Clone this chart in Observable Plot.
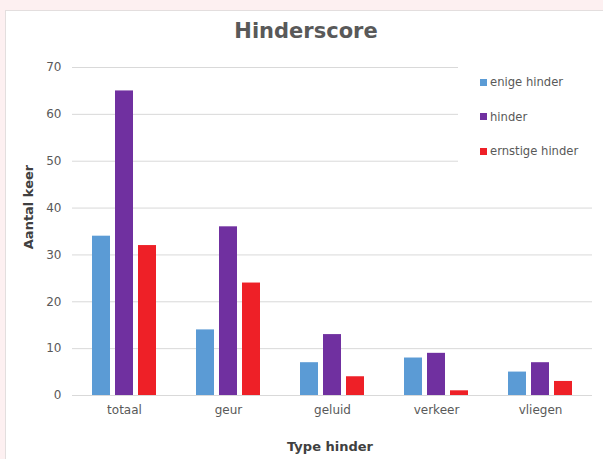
<!DOCTYPE html>
<html>
<head>
<meta charset="utf-8">
<script src="https://cdn.jsdelivr.net/npm/d3@7"></script>
<script src="https://cdn.jsdelivr.net/npm/@observablehq/plot@0.6"></script>
<style>
  body { margin: 0; background: #fdf0f1; }
  #wrap { position: relative; width: 603px; height: 459px; overflow: hidden; font-family: "DejaVu Sans", sans-serif; color: #595959; }
  #panel { position: absolute; left: 5px; top: 10px; width: 640px; height: 480px; background: #fff; border: 1px solid #e3dede; }
  .layer { position: absolute; left: 0; top: 0; }
  #title { position: absolute; left: 306px; top: 19px; transform: translateX(-50%); font-size: 21px; font-weight: bold; color: #595959; white-space: nowrap; }
  #ylab { position: absolute; left: 28px; top: 207px; transform: translate(-50%, -50%) rotate(-90deg); font-size: 13px; font-weight: bold; color: #404040; white-space: nowrap; }
  #xlab { position: absolute; left: 330px; top: 439px; transform: translateX(-50%); font-size: 13px; font-weight: bold; color: #404040; white-space: nowrap; }
  #legend { position: absolute; left: 458px; top: 60px; width: 135px; height: 114px; background: #fff; }
  .item { position: absolute; left: 22px; font-size: 11.6px; color: #595959; white-space: nowrap; display: flex; align-items: center; }
  .sw { width: 7px; height: 7px; margin-right: 3px; }
</style>
</head>
<body>
<div id="wrap">
  <div id="panel"></div>
  <div id="grid" class="layer"></div>
  <div id="bars" class="layer"></div>
  <div id="legend"></div>
  <div id="title">Hinderscore</div>
  <div id="ylab">Aantal keer</div>
  <div id="xlab">Type hinder</div>
</div>
<script>
const categories = ["totaal", "geur", "geluid", "verkeer", "vliegen"];
const series = ["enige hinder", "hinder", "ernstige hinder"];
const enigeHinder = [34, 14, 7, 8, 5];
const hinder = [65, 36, 13, 9, 7];
const ernstigeHinder = [32, 24, 4, 1, 3];
const yTicks = [0, 10, 20, 30, 40, 50, 60, 70];
const colors = ["#5b9bd5", "#7030a0", "#ee2027"];

const values = [enigeHinder, hinder, ernstigeHinder];
const rows = [];
categories.forEach((c, i) => series.forEach((s, j) => rows.push({cat: c, series: s, value: values[j][i]})));

const common = {
  width: 603, height: 459,
  marginLeft: 72, marginRight: 11, marginTop: 67, marginBottom: 64,
  style: {background: "transparent", fontFamily: "DejaVu Sans, sans-serif", fontSize: "12px", color: "#595959", overflow: "visible"}
};

const gridPlot = Plot.plot({
  ...common,
  y: {domain: [0, 70], ticks: yTicks, label: null, tickSize: 0, tickPadding: 11},
  marks: [
    Plot.ruleY(yTicks, {stroke: "#d9d9d9", strokeWidth: 1}),
    Plot.axisY({ticks: yTicks, tickSize: 0, tickPadding: 11, label: null})
  ]
});
document.getElementById("grid").append(gridPlot);

const barPlot = Plot.plot({
  ...common,
  fx: {domain: categories, paddingInner: 0.385, paddingOuter: 0.1925, label: null, axis: "bottom", tickSize: 0, tickPadding: 10},
  x: {domain: series, axis: null, paddingInner: 0.22, paddingOuter: 0},
  y: {domain: [0, 70], axis: null},
  color: {domain: series, range: colors},
  marks: [
    Plot.barY(rows, {fx: "cat", x: "series", y: "value", fill: "series"})
  ]
});
document.getElementById("bars").append(barPlot);

const legend = document.getElementById("legend");
series.forEach((s, j) => {
  const it = document.createElement("div");
  it.className = "item";
  it.style.top = (15 + j * 34.5) + "px";
  const sw = document.createElement("span");
  sw.className = "sw";
  sw.style.background = colors[j];
  const t = document.createElement("span");
  t.textContent = s;
  it.append(sw, t);
  legend.append(it);
});
</script>
</body>
</html>
